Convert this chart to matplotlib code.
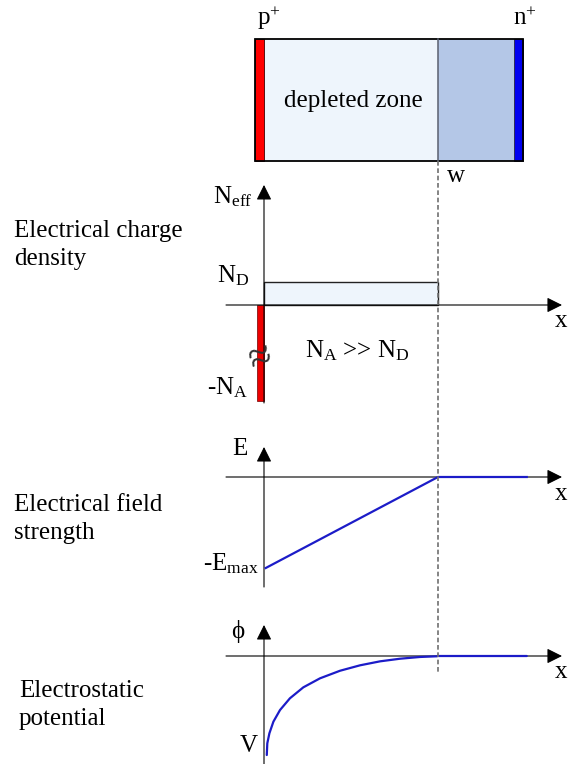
import matplotlib.pyplot as plt
from matplotlib.patches import Rectangle

plt.rcParams['font.family'] = ['Liberation Serif', 'DejaVu Serif']
plt.rcParams['mathtext.fontset'] = 'custom'
plt.rcParams['mathtext.rm'] = 'Liberation Serif'
plt.rcParams['mathtext.it'] = 'Liberation Serif:italic'

# data, x in units of the depletion depth w ===================================
w = 1.0
x_end = 1.51            # where the drawn curves stop
n_d = 1.0               # donor level
n_a = 4.17              # acceptor level (axis broken, N_A >> N_D)
p_width = 0.042         # width of the p+ layer

e_x = [0.01, w, x_end]
e_y = [-1.0, 0.0, 0.0]

phi_x = [0.016, 0.019, 0.031, 0.054, 0.092, 0.149, 0.226, 0.322, 0.437,
         0.552, 0.667, 0.782, 0.897, 0.993, w, x_end]
phi_y = [-1.021, -0.900, -0.797, -0.677, -0.557, -0.436, -0.323, -0.230,
         -0.152, -0.096, -0.055, -0.028, -0.010, -0.003, 0.0, 0.0]

left_labels = ['Electrical charge\ndensity', 'Electrical field\nstrength',
               'Electrostatic\npotential']

# layout (pixels) ==============================================================
W, H = 568, 764
X0 = 264       # pixel of x = 0
PX = 174       # pixels per w
FS = 18

fig = plt.figure(figsize=(W / 100, H / 100), dpi=100)


def add_chart(top, bottom, y0, scale):
    ax = fig.add_axes([0, 1 - bottom / H, 1, (bottom - top) / H])
    ax.set_xlim(-X0 / PX, (W - X0) / PX)
    ax.set_ylim(-(bottom - y0) / scale, (y0 - top) / scale)
    ax.axis('off')
    return ax


def arrow(ax, start, end):
    ax.annotate('', xy=end, xytext=start, annotation_clip=False,
                arrowprops=dict(arrowstyle='-|>,head_length=0.4,head_width=0.2',
                                mutation_scale=23, lw=0.8, color='black',
                                shrinkA=0, shrinkB=0))


x_left = (226 - X0) / PX
x_tip = (562 - X0) / PX

#charge density=================================================================
ax1 = add_chart(170, 410, 305, 23)
ax1.bar(0, n_d, width=w, align='edge', color='#EEF5FC', edgecolor='#222222',
        lw=1, zorder=1)
ax1.bar(-p_width, -n_a, width=p_width, align='edge', color='#EE0000',
        edgecolor='#700000', lw=0.5, zorder=2)
arrow(ax1, (x_left, 0), (x_tip, 0))
arrow(ax1, (0, -4.26), (0, 5.22))

#field strength=================================================================
ax2 = add_chart(430, 600, 477, 91)
arrow(ax2, (x_left, 0), (x_tip, 0))
arrow(ax2, (0, -1.209), (0, 0.33))
ax2.plot(e_x, e_y, color='#1c1cc8', lw=1.6, zorder=3)

#potential======================================================================
ax3 = add_chart(610, 764, 656, 97)
arrow(ax3, (x_left, 0), (x_tip, 0))
arrow(ax3, (0, -1.2), (0, 0.32))
ax3.plot(phi_x, phi_y, color='#1c1cc8', lw=1.6, zorder=3,
         solid_capstyle='round')

#overlay: detector sketch, dashed line and labels===============================
lay = fig.add_axes([0, 0, 1, 1])
lay.set_xlim(0, W)
lay.set_ylim(H, 0)
lay.axis('off')
lay.patch.set_visible(False)

lay.add_patch(Rectangle((264, 39), 174, 122, facecolor='#EEF5FC', lw=0))
lay.add_patch(Rectangle((438, 39), 76, 122, facecolor='#B4C7E7', lw=0))
lay.add_patch(Rectangle((255, 39), 9, 122, facecolor='#FF0000',
                        edgecolor='#400000', lw=0.6))
lay.add_patch(Rectangle((514, 39), 9, 122, facecolor='#0000F0',
                        edgecolor='#202040', lw=0.6))
lay.add_patch(Rectangle((255, 39), 268, 122, facecolor='none',
                        edgecolor='black', lw=1.3))
lay.plot([438, 438], [39, 161], color='#5a6070', lw=1.1)
lay.plot([438, 438], [161, 672], color='#707070', lw=1.2,
         linestyle=(0, (2.8, 1.6)))

lay.text(257, 25, r'p$^{+}$', fontsize=FS, va='baseline')
lay.text(513, 25, r'n$^{+}$', fontsize=FS, va='baseline')
lay.text(353, 107, 'depleted zone', fontsize=FS, va='baseline', ha='center')
lay.text(447, 182, 'w', fontsize=FS, va='baseline')

lay.text(213, 203, r'N$_{\mathrm{eff}}$', fontsize=FS, va='baseline')
lay.text(217, 282, r'N$_{\mathrm{D}}$', fontsize=FS, va='baseline')
lay.text(207, 394, r'-N$_{\mathrm{A}}$', fontsize=FS, va='baseline')
lay.text(261, 359, '≈', fontsize=30, ha='center', va='center', rotation=20,
         color='#333333')
lay.text(305, 357, r'N$_{\mathrm{A}}$ >> N$_{\mathrm{D}}$', fontsize=FS,
         va='baseline')

lay.text(232, 455, 'E', fontsize=FS, va='baseline')
lay.text(203, 570, r'-E$_{\mathrm{max}}$', fontsize=FS, va='baseline')
lay.text(231, 638, 'ϕ', fontsize=FS, va='baseline')
lay.text(240, 752, 'V', fontsize=FS, va='baseline')

for yb in [327, 500, 678]:
    lay.text(555, yb, 'x', fontsize=FS, va='baseline')

for lbl, (xl, yb) in zip(left_labels, [(14, 237), (14, 511), (19, 697)]):
    first, second = lbl.split('\n')
    lay.text(xl, yb, first, fontsize=FS, va='baseline')
    lay.text(xl, yb + 28, second, fontsize=FS, va='baseline')

fig.savefig('out.png', dpi=100)
